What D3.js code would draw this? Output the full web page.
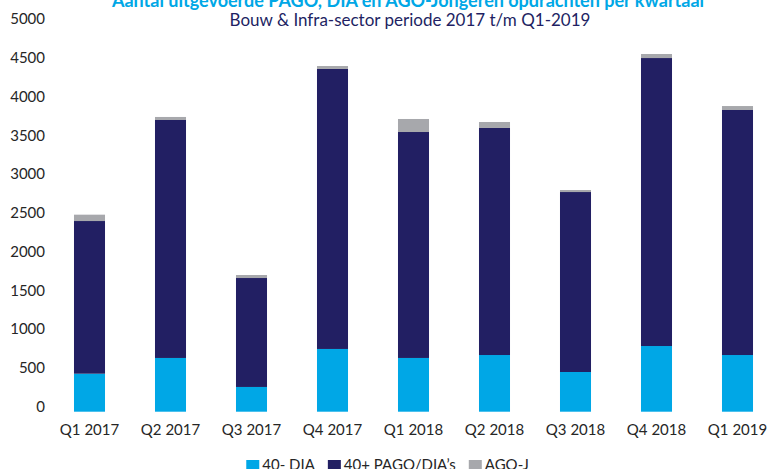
<!DOCTYPE html>
<html>
<head>
<meta charset="utf-8">
<script src="https://cdn.jsdelivr.net/npm/d3@7"></script>
<style>
  body { margin: 0; background: #fff; }
  svg { display: block; font-family: Lato, "Open Sans", sans-serif; }
</style>
</head>
<body>
<svg id="chart" width="772" height="469"></svg>
<script>
const quarters = ["Q1 2017", "Q2 2017", "Q3 2017", "Q4 2017", "Q1 2018", "Q2 2018", "Q3 2018", "Q4 2018", "Q1 2019"];
const dia40min = [490, 693, 319, 809, 693, 731, 512, 847, 731];
const pagoDia40plus = [1969, 3069, 1405, 3611, 2914, 2928, 2321, 3714, 3160];
const agoJ = [82, 39, 39, 38, 168, 77, 26, 52, 51];
const yTicks = [0, 500, 1000, 1500, 2000, 2500, 3000, 3500, 4000, 4500, 5000];
const seriesNames = ["40- DIA", "40+ PAGO/DIA\u2019s", "AGO-J"];

const colors = ["#00a7e6", "#221f63", "#a7a8ac"];

const svg = d3.select("#chart");

// build rows for the stack
const rows = quarters.map((q, i) => ({
  q: q,
  "40- DIA": dia40min[i],
  "40+ PAGO/DIA\u2019s": pagoDia40plus[i],
  "AGO-J": agoJ[i],
}));

const x = d3.scaleBand()
  .domain(quarters)
  .range([49, 778])
  .paddingInner(0.617)
  .paddingOuter(0.3085);

const y = d3.scaleLinear().domain([0, 5000]).range([411.7, 24]);

const stacked = d3.stack().keys(seriesNames)(rows);

svg.append("g")
  .selectAll("g")
  .data(stacked)
  .join("g")
  .attr("fill", (d, i) => colors[i])
  .selectAll("rect")
  .data((d) => d)
  .join("rect")
  .attr("x", (d) => x(d.data.q))
  .attr("width", x.bandwidth())
  .attr("y", (d) => y(d[1]))
  .attr("height", (d) => y(d[0]) - y(d[1]));

// y axis labels
const yAxis = svg.append("g")
  .attr("transform", "translate(45,0)")
  .call(d3.axisLeft(y).tickValues(yTicks).tickSize(0).tickPadding(0).tickFormat(d3.format("d")));
yAxis.select(".domain").remove();
yAxis.selectAll("text")
  .attr("y", -5)
  .attr("font-size", 15)
  .attr("font-family", "Lato")
  .attr("fill", "#262626");

// x axis labels
const xAxis = svg.append("g")
  .attr("transform", `translate(0,${y(0)})`)
  .call(d3.axisBottom(x).tickSize(0).tickPadding(13));
xAxis.select(".domain").remove();
xAxis.selectAll("text")
  .attr("font-size", 15)
  .attr("font-family", "Lato")
  .attr("fill", "#262626");

// titles
svg.append("text")
  .attr("x", 408)
  .attr("y", 7)
  .attr("text-anchor", "middle")
  .attr("font-size", 18)
  .attr("font-weight", "bold")
  .attr("fill", "#00a7e6")
  .text("Aantal uitgevoerde PAGO, DIA en AGO-Jongeren opdrachten per kwartaal");

svg.append("text")
  .attr("x", 410)
  .attr("y", 26)
  .attr("text-anchor", "middle")
  .attr("font-size", 17)
  .attr("fill", "#221f63")
  .text("Bouw & Infra-sector periode 2017 t/m Q1-2019");

// legend
const legend = svg.append("g");
let lx = 0;
seriesNames.forEach((name, i) => {
  const item = legend.append("g").attr("transform", `translate(${lx},0)`);
  item.append("rect")
    .attr("x", 0).attr("y", 460)
    .attr("width", 13).attr("height", 13)
    .attr("fill", colors[i]);
  const t = item.append("text")
    .attr("x", 16).attr("y", 470)
    .attr("font-size", 15)
    .attr("fill", "#262626")
    .text(name);
  lx += 16 + t.node().getComputedTextLength() + 13;
});
const legendWidth = lx - 13;
legend.attr("transform", `translate(${387.5 - legendWidth / 2},0)`);
</script>
</body>
</html>
